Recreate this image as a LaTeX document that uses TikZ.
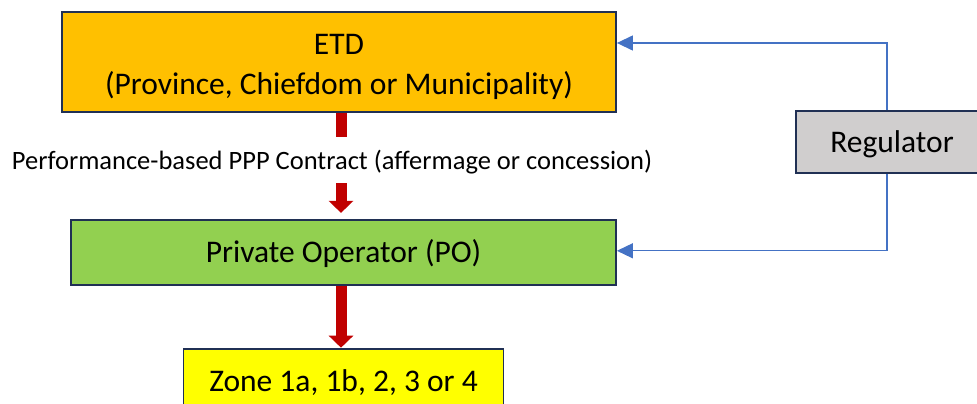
\documentclass[tikz,border=0pt]{standalone}
\usepackage{fontspec}
\setmainfont{Carlito}
\usetikzlibrary{positioning, arrows.meta}
\definecolor{darkred}{RGB}{192,0,0}
\definecolor{navy}{RGB}{32,48,84}
\definecolor{linkblue}{RGB}{68,114,196}
\definecolor{etdorange}{RGB}{255,192,0}
\definecolor{pogreen}{RGB}{146,208,80}
\definecolor{zoneyellow}{RGB}{255,255,0}
\definecolor{reggray}{RGB}{208,206,206}

\begin{document}
\begin{tikzpicture}[
        x=1pt, y=-1pt,
        orgbox/.style={rectangle, draw=navy, line width=1.8pt, align=center,
                       font=\fontsize{31.5}{40}\selectfont, text height=21pt, text depth=0pt},
        lbl/.style={fill=white, font=\fontsize{26.5}{32}\selectfont,
                    text height=19pt, text depth=0pt, minimum height=46pt, inner sep=2pt},
        redarrow/.style={-{Triangle[width=24pt,length=12pt]}, line width=11pt, darkred},
        bluearrow/.style={-{Triangle[width=15pt,length=16pt]}, line width=1.3pt, linkblue},
    ]
    \useasboundingbox (0,0) rectangle (977,404);
    \clip (0,0) rectangle (977,404);

    % ===== Boxes =====
    \node[orgbox, fill=etdorange, minimum width=554pt, minimum height=100pt,
          text height=66pt] (ETD) at (339,62)
        {ETD\\(Province, Chiefdom or Municipality)};
    \node[orgbox, fill=pogreen, minimum width=545pt, minimum height=65pt,
          below=106pt of ETD, xshift=4.5pt] (PO) {Private Operator (PO)};
    \node[orgbox, fill=zoneyellow, minimum width=320pt, minimum height=65pt,
          below=62pt of PO] (ZONE) {Zone 1a, 1b, 2, 3 or 4};
    \node[orgbox, fill=reggray, minimum width=192pt, minimum height=62pt] (REG) at (892,142)
        {Regulator};

    % ===== Contract arrows =====
    \draw[redarrow, shorten >=6pt] ([xshift=2pt]ETD.south) -- ([xshift=-2.5pt]PO.north);
    \draw[redarrow] ([xshift=-2.5pt]PO.south) -- ([xshift=-2.5pt]ZONE.north);
    \node[lbl, below=24pt of ETD.south, xshift=-7pt] (CONTRACT)
        {Performance-based PPP Contract (affermage or concession)};

    % ===== Regulator links =====
    \draw[bluearrow] ([xshift=-5pt]REG.north) |- ([yshift=19pt]ETD.east);
    \draw[bluearrow] ([xshift=-5pt]REG.south) |- ([yshift=1.5pt]PO.east);

\end{tikzpicture}
\end{document}
